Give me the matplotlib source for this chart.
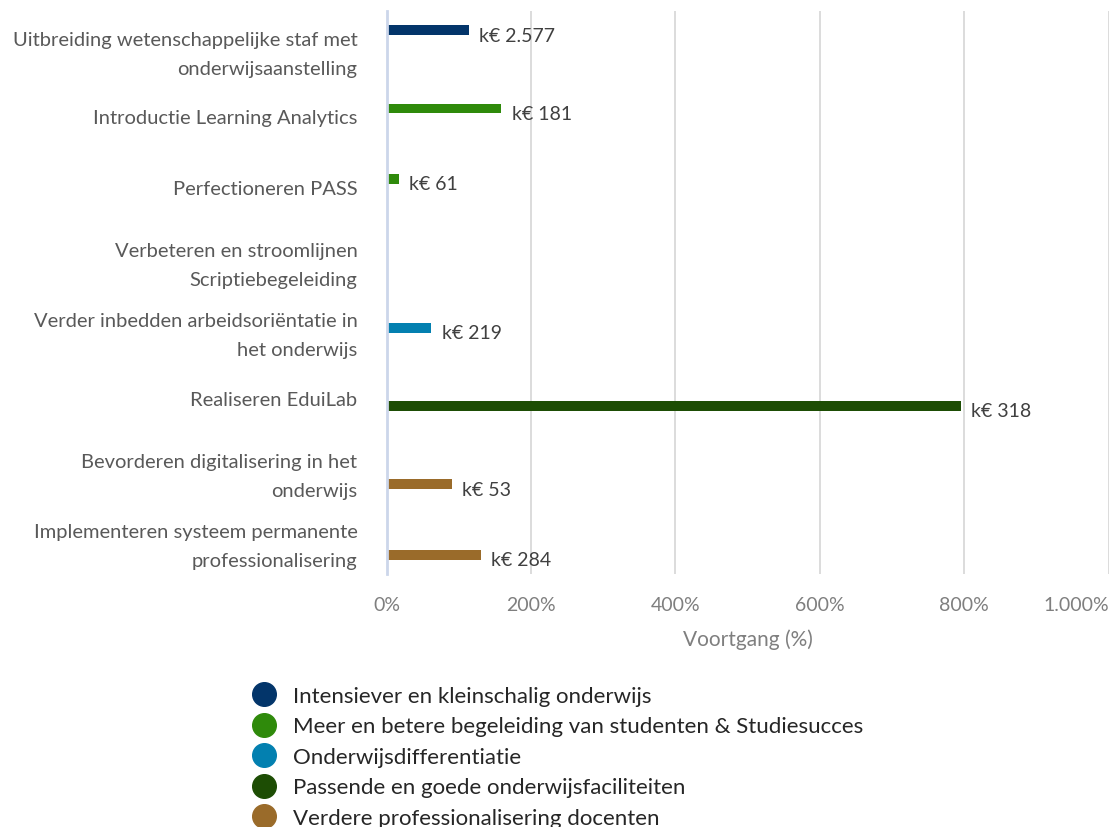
import matplotlib.pyplot as plt
from matplotlib.lines import Line2D
from matplotlib.ticker import FuncFormatter

plt.rcParams['font.family'] = ['Lato', 'DejaVu Sans']

# categories top to bottom
categories = [
    "Uitbreiding wetenschappelijke staf met\nonderwijsaanstelling",
    "Introductie Learning Analytics",
    "Perfectioneren PASS",
    "Verbeteren en stroomlijnen\nScriptiebegeleiding",
    "Verder inbedden arbeidsoriëntatie in\nhet onderwijs",
    "Realiseren EduiLab",
    "Bevorderen digitalisering in het\nonderwijs",
    "Implementeren systeem permanente\nprofessionalisering",
]
# progress in %, None = no bar
progress = [114, 159, 17, None, 62, 795, 90, 131]
# which theme (series) each project belongs to
theme_idx = [0, 1, 1, None, 2, 3, 4, 4]
amounts = ["k€ 2.577", "k€ 181", "k€ 61", "", "k€ 219", "k€ 318", "k€ 53", "k€ 284"]

themes = [
    "Intensiever en kleinschalig onderwijs",
    "Meer en betere begeleiding van studenten & Studiesucces",
    "Onderwijsdifferentiatie",
    "Passende en goede onderwijsfaciliteiten",
    "Verdere professionalisering docenten",
]
theme_colors = ["#03356a", "#2f8a0b", "#0380b0", "#1d4d04", "#9a6b2a"]

fig = plt.figure(figsize=(11.11, 8.28), dpi=100)
ax = fig.add_axes([0.348, 0.3056, 0.650, 0.680])

slot = 0.1136
bar_h = 0.142
for s in range(len(themes)):
    for i, v in enumerate(progress):
        if v is None or theme_idx[i] != s:
            continue
        y = i + (s - 2) * slot
        ax.barh(y, v, height=bar_h, color=theme_colors[s], zorder=3)
        ax.text(v + 14, y + 0.07, amounts[i], va='center', ha='left',
                fontsize=14, color='#404040')

ax.set_xlim(0, 1000)
ax.set_ylim(len(categories) - 0.5, -0.5)
ax.set_xticks(range(0, 1001, 200))
ax.xaxis.set_major_formatter(FuncFormatter(lambda x, p: f"{int(x):,}%".replace(",", ".")))
ax.set_yticks(range(len(categories)))
ax.set_yticklabels(categories, fontsize=14.5, color='#595959', linespacing=1.85)
ax.tick_params(axis='y', length=0, pad=21)
ax.tick_params(axis='x', length=0, pad=16, labelsize=14, labelcolor='#7f7f7f')
# last tick label kept inside the figure
ax.get_xticklabels()[-1].set_horizontalalignment('right')

ax.grid(axis='x', color='#d9d9d9', linewidth=1.3, zorder=0)
for sp in ['top', 'right', 'bottom']:
    ax.spines[sp].set_visible(False)
ax.spines['left'].set_color('#ccd6ea')
ax.spines['left'].set_linewidth(2)
ax.spines['left'].set_zorder(4)

ax.set_xlabel("Voortgang (%)", fontsize=15, color='#7f7f7f', labelpad=11)

handles = [Line2D([], [], marker='o', linestyle='', markersize=17,
                  markerfacecolor=c, markeredgecolor=c) for c in theme_colors]
fig.legend(handles, themes, loc='upper left', bbox_to_anchor=(252 / 1111, 1 - 687 / 828),
           frameon=False, fontsize=16, labelspacing=0.47, handletextpad=0.75,
           borderpad=0, borderaxespad=0, handlelength=1.1, labelcolor='#262626')

fig.savefig("out.png", dpi=100)
